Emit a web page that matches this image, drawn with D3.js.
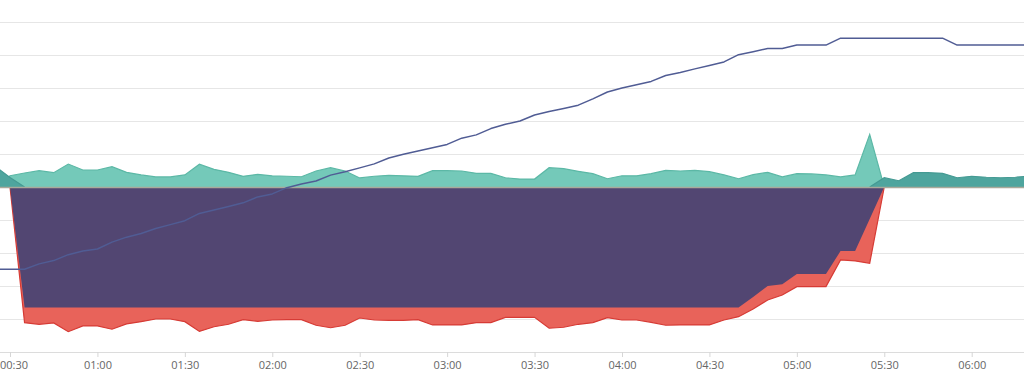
<!DOCTYPE html>
<html>
<head>
<meta charset="utf-8">
<script src="https://cdn.jsdelivr.net/npm/d3@7"></script>
<style>
  html, body { margin: 0; padding: 0; background: #fff; }
  svg { display: block; }
  .tick text { font-family: "Open Sans", sans-serif; font-size: 11px; fill: #666; }
</style>
</head>
<body>
<svg id="chart" width="1024" height="378"></svg>
<script>
// 5-minute samples from 00:25 to 06:20
const startTime = "00:25";
const stepMinutes = 5;

// light teal (positive) series
const tealLight = [0, 6.8, 8.5, 9.9, 8.7, 13.9, 10.3,
  10.3, 12.3, 8.9, 7.3, 6.1, 6.1, 7.3, 13.8, 10.7, 8.9, 6.5, 7.7,
  6.7, 6.5, 6.2, 9.7, 11.7, 9.7, 5.5, 6.5, 7.1, 6.8, 6.5, 9.9,
  9.9, 9.7, 8.3, 8.3, 5.6, 4.8, 4.8, 11.7, 11.1, 9.5, 8.1, 5.0,
  6.8, 6.8, 8.1, 10.1, 9.7, 10.1, 9.3, 7.3, 5.0, 7.5, 8.9, 6.1,
  8.1, 7.9, 7.3, 6.1, 7.3, 31.9, 0, null, null, null, null, null,
  null, null, null, null, null];

// dark teal (positive) series
const tealDark = [12.4, 5.8, 0, null, null, null, null,
  null, null, null, null, null, null, null, null, null, null, null, null,
  null, null, null, null, null, null, null, null, null, null, null, null,
  null, null, null, null, null, null, null, null, null, null, null, null,
  null, null, null, null, null, null, null, null, null, null, null, null,
  null, null, null, null, null, 0, 5.6, 3.8, 8.7, 8.7, 8.3, 5.6,
  6.5, 5.9, 5.6, 5.9, 6.7];

// red (negative) series
const redSeries = [null, 0, -82.2, -83.2, -82.4, -87.7, -84.2,
  -84.2, -86.2, -83.0, -81.6, -80.0, -80.0, -81.6, -87.5, -84.7, -83.2, -80.4, -81.4,
  -80.6, -80.4, -80.4, -83.8, -85.3, -83.8, -79.4, -80.6, -80.8, -80.8, -80.4, -83.6,
  -83.6, -83.6, -82.2, -82.2, -79.0, -79.0, -79.0, -85.6, -85.0, -83.2, -82.2, -79.2,
  -80.6, -80.6, -82.0, -83.8, -83.6, -83.6, -83.6, -80.6, -78.6, -73.9, -68.5, -65.5,
  -60.4, -60.4, -60.4, -44.2, -44.8, -46.2, 0, null, null, null, null, null,
  null, null, null, null, null];

// purple (negative) series
const purpleSeries = [null, 0, -73, -73, -73, -73, -73,
  -73, -73, -73, -73, -73, -73, -73, -73, -73, -73, -73, -73,
  -73, -73, -73, -73, -73, -73, -73, -73, -73, -73, -73, -73,
  -73, -73, -73, -73, -73, -73, -73, -73, -73, -73, -73, -73,
  -73, -73, -73, -73, -73, -73, -73, -73, -73, -66.7, -60.0, -59.0,
  -52.7, -52.7, -52.7, -38.8, -38.8, -19.4, 0, null, null, null, null, null,
  null, null, null, null, null];

// blue line (secondary scale)
const blueLine = [25.1, 25.1, 25.1, 26.7, 27.7, 29.5, 30.6,
  31.2, 33.3, 34.8, 35.9, 37.4, 38.6, 39.8, 42.0, 43.0, 44.1, 45.2, 47.0,
  47.9, 49.8, 50.9, 51.8, 53.6, 54.6, 55.8, 57.0, 58.8, 59.9, 60.9, 61.9,
  62.9, 64.8, 65.8, 67.7, 69.0, 70.0, 71.8, 72.9, 73.8, 74.8, 76.7, 78.8,
  80.0, 81.0, 82.0, 83.8, 84.7, 85.8, 86.8, 87.9, 90.1, 91.0, 92.0, 92.0,
  93.0, 93.0, 93.0, 95.1, 95.1, 95.1, 95.1, 95.1, 95.1, 95.1, 95.1, 93.0,
  93.0, 93.0, 93.0, 93.0, 93.0];

const gridValues = [-80, -60, -40, -20, 0, 20, 40, 60, 80, 100];

// ---- build times ----
const parse = d3.utcParse("%H:%M");
const t0 = parse(startTime);
const times = blueLine.map((_, i) => new Date(t0.getTime() + i * stepMinutes * 60000));

const svg = d3.select("#chart");

const x = d3.scaleUtc()
  .domain([parse("00:30"), parse("06:00")])
  .range([10, 971.7]);

const y = d3.scaleLinear().domain([-100, 100]).range([352, 22]);
const y2 = d3.scaleLinear().domain([0, 100]).range([352, 22]);

// grid
svg.append("g")
  .selectAll("line")
  .data(gridValues)
  .join("line")
  .attr("x1", 0).attr("x2", 1024)
  .attr("y1", d => Math.round(y(d)) + 0.5)
  .attr("y2", d => Math.round(y(d)) + 0.5)
  .attr("stroke", "#e6e6e6")
  .attr("stroke-width", 1.2);

function mk(series) {
  return series.map((v, i) => ({ t: times[i], v }));
}

function areaGen() {
  return d3.area()
    .defined(d => d.v !== null)
    .x(d => x(d.t))
    .y0(y(0))
    .y1(d => y(d.v));
}
function lineGen(scale) {
  return d3.line()
    .defined(d => d.v !== null)
    .x(d => x(d.t))
    .y(d => scale(d.v));
}

// red
svg.append("path").datum(mk(redSeries))
  .attr("d", areaGen()).attr("fill", "#e8635a");
svg.append("path").datum(mk(redSeries))
  .attr("d", lineGen(y)).attr("fill", "none")
  .attr("stroke", "#d63b35").attr("stroke-width", 1.2);

// purple
svg.append("path").datum(mk(purpleSeries))
  .attr("d", areaGen()).attr("fill", "#524672");

// light teal
svg.append("path").datum(mk(tealLight))
  .attr("d", areaGen()).attr("fill", "#74c9b9");
svg.append("path").datum(mk(tealLight))
  .attr("d", lineGen(y)).attr("fill", "none")
  .attr("stroke", "#5cb8a6").attr("stroke-width", 1.2);

// dark teal
svg.append("path").datum(mk(tealDark))
  .attr("d", areaGen()).attr("fill", "#4ea59e");
svg.append("path").datum(mk(tealDark))
  .attr("d", lineGen(y)).attr("fill", "none")
  .attr("stroke", "#459a93").attr("stroke-width", 1.2);

// zero line
svg.append("line")
  .attr("x1", 0).attr("x2", 1024)
  .attr("y1", y(0) + 0.5).attr("y2", y(0) + 0.5)
  .attr("stroke", "#a9a99a").attr("stroke-width", 1.5);

// blue line
svg.append("path").datum(mk(blueLine))
  .attr("d", lineGen(y2)).attr("fill", "none")
  .attr("stroke", "#505c94").attr("stroke-width", 1.5)
  .attr("stroke-linejoin", "round");

// x axis
const xAxis = d3.axisBottom(x)
  .ticks(d3.utcMinute.every(30))
  .tickFormat(d3.utcFormat("%H:%M"))
  .tickSize(5)
  .tickPadding(4);

const gx = svg.append("g")
  .attr("transform", "translate(0,352)")
  .call(xAxis);
gx.select(".domain").remove();
gx.insert("line", ":first-child")
  .attr("x1", 0).attr("x2", 1024).attr("y1", 0.5).attr("y2", 0.5)
  .attr("stroke", "#dcdcdc").attr("stroke-width", 1.2);
gx.selectAll(".tick line").attr("stroke", "#d6d6d6");

// keep edge labels inside the picture
gx.selectAll(".tick text").each(function () {
  const tick = this.parentNode;
  const tx = +tick.getAttribute("transform").match(/translate\(([^,]+)/)[1];
  const w = this.getComputedTextLength();
  if (tx - w / 2 < 0) {
    d3.select(this).attr("text-anchor", "start").attr("x", -tx);
  } else if (tx + w / 2 > 1024) {
    d3.select(this).attr("text-anchor", "end").attr("x", 1024 - tx);
  }
});
</script>
</body>
</html>
